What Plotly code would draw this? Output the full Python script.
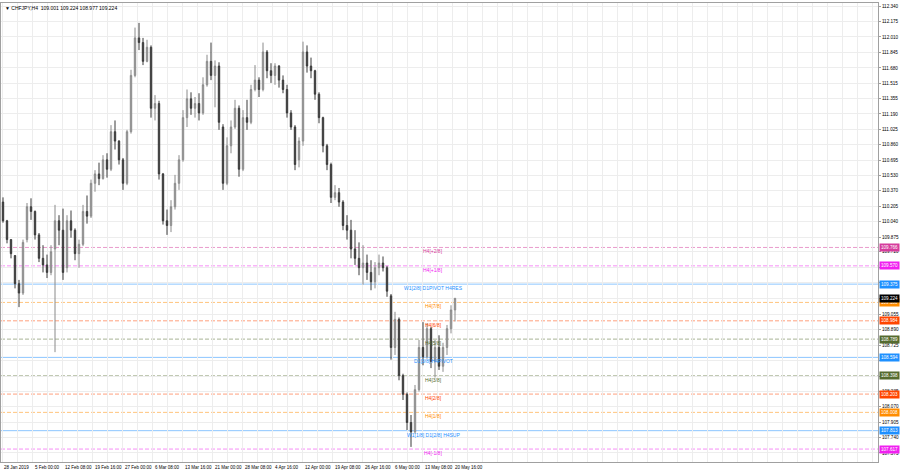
import plotly.graph_objects as go

# ---------------- data ----------------
symbol_title = "CHFJPY,H4  109.001 109.224 108.977 109.224"

opens = [110.25,110.05,109.85,109.68,109.38,109.28,109.85,110.20,110.15,109.90,
         109.65,109.58,109.50,109.75,110.05,109.95,109.55,110.05,109.95,109.70,
         109.80,110.15,110.10,110.45,110.55,110.50,110.70,110.60,111.00,110.90,
         110.70,110.45,111.00,111.60,112.00,111.95,111.75,111.90,111.25,111.30,
         110.55,110.05,110.00,110.20,110.45,110.70,111.15,111.35,111.25,111.30,
         111.20,111.50,111.75,111.60,111.70,111.05,110.45,110.85,111.05,111.25,
         110.60,111.15,111.10,111.45,111.55,111.45,111.85,111.65,111.60,111.70,
         111.55,111.45,111.20,111.05,110.70,110.90,111.85,111.70,111.65,111.40,
         111.15,110.85,110.65,110.30,110.35,110.25,110.00,109.95,109.75,109.65,
         109.55,109.60,109.50,109.40,109.55,109.60,109.55,109.25,108.70,109.00,
         108.40,108.20,107.90,107.80,108.25,108.70,108.60,108.90,108.55,108.70,
         108.50,108.70,108.90,109.10]
highs = [110.30,110.06,109.85,109.68,109.42,109.85,110.24,110.29,110.16,109.92,
         109.79,109.69,109.79,110.22,110.11,110.18,110.11,110.16,109.97,109.85,
         110.22,110.32,110.49,110.59,110.67,110.75,110.77,111.07,111.12,110.91,
         110.72,111.02,111.66,112.11,112.16,112.00,111.98,111.92,111.39,111.33,
         110.56,110.17,110.27,110.54,110.75,111.23,111.45,111.42,111.37,111.41,
         111.58,111.82,111.95,111.76,111.74,111.08,110.94,111.12,111.34,111.28,
         111.23,111.34,111.50,111.71,111.58,111.95,111.87,111.73,111.73,111.71,
         111.60,111.50,111.23,111.07,110.94,111.96,111.92,111.79,111.66,111.42,
         111.16,110.87,110.67,110.43,110.40,110.27,110.11,110.06,109.95,109.82,
         109.79,109.69,109.63,109.61,109.69,109.67,109.57,109.27,109.08,109.02,
         108.42,108.22,107.98,108.30,108.78,108.97,108.96,108.92,108.78,108.83,
         108.75,108.94,109.15,109.224]
lows = [110.03,109.81,109.65,109.33,109.13,109.26,109.82,110.06,109.85,109.61,
        109.50,109.44,109.47,108.65,109.79,109.42,109.50,109.87,109.63,109.55,
        109.78,110.02,110.08,110.36,110.43,110.49,110.51,110.58,110.81,110.65,
        110.38,110.43,110.98,111.58,111.87,111.71,111.74,111.15,111.12,110.49,
        110.01,109.90,109.93,110.17,110.38,110.68,111.05,111.18,111.15,111.12,
        111.18,111.48,111.55,111.26,111.02,110.38,110.43,110.77,111.03,110.52,
        110.58,111.02,111.08,111.43,111.37,111.43,111.57,111.52,111.50,111.47,
        111.41,111.15,111.02,110.59,110.62,110.85,111.63,111.57,111.34,111.09,
        110.78,110.59,110.24,110.27,110.20,109.95,109.85,109.65,109.58,109.47,
        109.37,109.42,109.31,109.33,109.47,109.51,109.24,108.57,108.62,108.35,
        108.14,107.82,107.64,107.78,108.23,108.51,108.58,108.48,108.38,108.46,
        108.44,108.62,108.85,108.977]
closes = [110.05,109.85,109.70,109.38,109.28,109.82,110.20,110.15,109.90,109.65,
          109.58,109.50,109.72,110.05,109.95,109.50,110.05,109.95,109.70,109.80,
          110.15,110.10,110.45,110.55,110.50,110.70,110.60,111.00,110.90,110.70,
          110.45,111.00,111.60,112.00,111.95,111.75,111.90,111.25,111.30,110.55,
          110.05,110.00,110.20,110.45,110.70,111.15,111.35,111.25,111.30,111.20,
          111.50,111.75,111.60,111.70,111.10,110.45,110.85,111.05,111.25,110.60,
          111.15,111.10,111.45,111.55,111.45,111.85,111.65,111.60,111.70,111.55,
          111.45,111.20,111.05,110.65,110.90,111.85,111.70,111.65,111.40,111.15,
          110.85,110.65,110.30,110.35,110.25,110.00,109.95,109.75,109.65,109.55,
          109.60,109.50,109.40,109.55,109.60,109.55,109.30,108.70,109.00,108.40,
          108.20,107.90,107.80,108.25,108.70,108.60,108.90,108.55,108.70,108.50,
          108.70,108.90,109.10,109.224]

# Murrey-math style levels: value, label text, colour, dashed?
level_values = [109.766, 109.570, 109.375, 109.180, 108.984, 108.789,
                108.594, 108.398, 108.203, 108.008, 107.813, 107.617]
level_texts = ["H4[+2/8]", "H4[+1/8]", "W1[2/8] D1PIVOT H4RES", "H4[7/8]",
               "H4[6/8]", "H4[5/8]", "D1[3/8] H4PIVOT", "H4[3/8]",
               "H4[2/8]", "H4[1/8]", "W1[1/8] D1[2/8] H4SUP", "H4[-1/8]"]
level_colors = ["#d63c9c", "#f020f0", "#1e90ff", "#ff8c00", "#ff4500", "#556b2f",
                "#1e90ff", "#556b2f", "#ff4500", "#ff8c00", "#1e90ff", "#f020f0"]
level_dashed = [True, True, False, True, True, True,
                False, True, True, True, False, True]
current_price = 109.224

# price-axis tick labels (grid rows); those hidden under the level boxes have no text
y_ticks = [112.340, 112.175, 112.010, 111.845, 111.680, 111.515, 111.355, 111.190,
           111.025, 110.860, 110.695, 110.530, 110.370, 110.205, 110.040, 109.875,
           109.720, 109.555, 109.390, 109.225, 109.055, 108.890, 108.725, 108.560,
           108.395, 108.235, 108.070, 107.905, 107.740, 107.575]
y_hidden = [109.555, 109.390, 109.225, 108.560, 108.395]

# time-axis labels (positions in candle units)
date_labels = ["28 Jan 2019", "5 Feb 00:00", "12 Feb 08:00", "19 Feb 16:00",
               "27 Feb 00:00", "6 Mar 08:00", "13 Mar 16:00", "21 Mar 00:00",
               "28 Mar 08:00", "4 Apr 16:00", "12 Apr 00:00", "19 Apr 08:00",
               "26 Apr 16:00", "6 May 00:00", "13 May 08:00", "20 May 16:00"]
date_pos = [-0.25] + [7.375 + 7.5 * k for k in range(15)]
grid_x = [-0.125 + 3.75 * k for k in range(59)]

FONT = "Liberation Sans"
FS_Y = 4.6      # price axis + right boxes
FS_DATE = 4.5   # time axis
FS_LVL = 5.0    # level captions
FS_TITLE = 5.0  # top-left caption

x_idx = list(range(len(opens)))

fig = go.Figure()
fig.add_trace(go.Candlestick(
    x=x_idx, open=opens, high=highs, low=lows, close=closes,
    increasing=dict(line=dict(color="#8a8a8a", width=1), fillcolor="#ababab"),
    decreasing=dict(line=dict(color="#3a3a3a", width=1), fillcolor="#3a3a3a"),
    whiskerwidth=0, showlegend=False, hoverinfo="skip",
))

shapes = []
annotations = []
for v, t, c, d in zip(level_values, level_texts, level_colors, level_dashed):
    shapes.append(dict(type="line", xref="paper", x0=0, x1=1, yref="y", y0=v, y1=v,
                       line=dict(color=c, width=1, dash="4px,2px" if d else "solid"),
                       opacity=0.5, layer="below"))
    annotations.append(dict(x=107.5, y=v, xref="x", yref="y", text=t, showarrow=False,
                            xanchor="center", yanchor="top",
                            font=dict(family=FONT, size=FS_LVL, color=c), borderpad=0))
    annotations.append(dict(x=1, y=v, xref="paper", yref="y", text=f"{v:.3f}",
                            showarrow=False, xanchor="left", yanchor="middle", xshift=1,
                            bgcolor=c, borderpad=1,
                            font=dict(family=FONT, size=FS_Y, color="white")))

annotations.append(dict(x=1, y=current_price, xref="paper", yref="y",
                        text=f"{current_price:.3f}", showarrow=False, xanchor="left",
                        yanchor="middle", xshift=1, bgcolor="#000000", borderpad=1,
                        font=dict(family=FONT, size=FS_Y, color="white")))

for lab, pos in zip(date_labels, date_pos):
    annotations.append(dict(x=pos, y=0, xref="x", yref="paper", text=lab,
                            showarrow=False, xanchor="left", yanchor="top", yshift=-1,
                            font=dict(family=FONT, size=FS_DATE, color="#000000")))

annotations.append(dict(x=0, y=1, xref="paper", yref="paper",
                        text="▼ " + symbol_title, showarrow=False, xanchor="left",
                        yanchor="top", xshift=2, yshift=0,
                        font=dict(family=FONT, size=FS_TITLE, color="#000000")))

fig.update_layout(
    width=900, height=470,
    margin=dict(l=1, r=22, t=3, b=8),
    paper_bgcolor="white", plot_bgcolor="white",
    shapes=shapes, annotations=annotations,
    boxgap=0.5,
    font=dict(family=FONT, size=FS_Y, color="#000000"),
    xaxis=dict(range=[-0.5, 218.75], rangeslider=dict(visible=False),
               tickmode="array", tickvals=grid_x, ticktext=[""] * len(grid_x),
               showgrid=True, gridcolor="#ededed", gridwidth=1,
               showline=True, linecolor="#a0a0a0", mirror=True,
               zeroline=False, ticks="", fixedrange=True),
    yaxis=dict(range=[107.479, 112.372], side="right",
               tickmode="array", tickvals=y_ticks,
               ticktext=["" if v in y_hidden else f"{v:.3f}" for v in y_ticks],
               tickfont=dict(family=FONT, size=FS_Y, color="#000000"),
               showgrid=True, gridcolor="#ededed", gridwidth=1,
               showline=True, linecolor="#a0a0a0", mirror=True,
               ticks="outside", ticklen=2, tickcolor="#a0a0a0",
               automargin=False, zeroline=False, fixedrange=True),
)

fig.write_html(
    "out.html",
    config={"displayModeBar": False},
    post_script="document.body.style.margin='0';document.body.style.overflow='hidden';",
)
